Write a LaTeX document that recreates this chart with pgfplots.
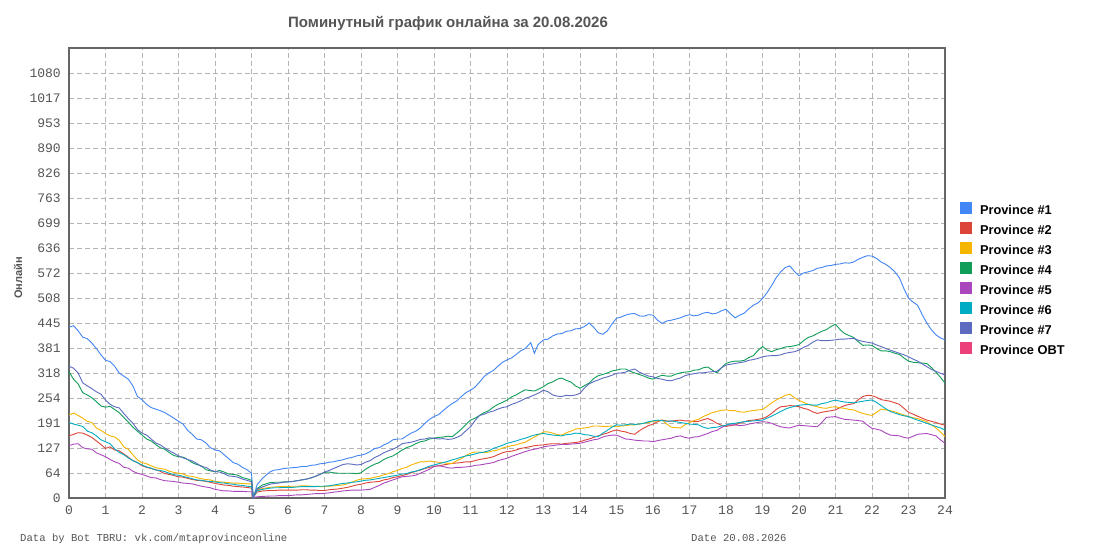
\documentclass[border=0pt]{standalone}
\usepackage{fontspec}
\setmainfont{Liberation Sans}
\newfontfamily\monofont{Liberation Mono}
\usepackage{pgfplots}
\usepackage{pgfplotstable}
\pgfplotsset{compat=1.18}
\definecolor{cA}{HTML}{4285F4}
\definecolor{cB}{HTML}{DB4437}
\definecolor{cC}{HTML}{F4B400}
\definecolor{cD}{HTML}{0F9D58}
\definecolor{cE}{HTML}{AB47BC}
\definecolor{cF}{HTML}{00ACC1}
\definecolor{cG}{HTML}{5C6BC0}
\definecolor{cH}{HTML}{EC407A}
\definecolor{txt}{HTML}{555555}
\definecolor{frame}{HTML}{666666}
\definecolor{gridc}{HTML}{B4B4B4}
\pgfplotstableread{
h s1 s2 s3 s4 s5 s6 s7
0 434 158 211 321 133 192 335
0.125 438 162 216 302 137 188 330
0.25 425 166 210 290 138 185 318
0.375 409 165 203 268 128 182 293
0.5 405 160 195 262 125 170 285
0.625 394 154 192 255 124 166 278
0.75 380 145 178 245 115 158 270
0.875 364 136 172 234 110 148 264
1 350 126 164 231 105 143 249
1.125 347 130 158 233 98 138 238
1.25 335 122 155 225 92 125 232
1.375 318 120 147 217 88 116 229
1.5 310 112 130 205 78 110 215
1.625 302 104 124 193 76 102 202
1.75 285 95 110 180 68 95 190
1.875 258 90 97 170 63 90 174
2 250 82 90 160 60 84 165
2.125 238 78 87 150 56 79 160
2.25 230 75 82 145 52 76 150
2.375 226 72 77 136 51 71 140
2.5 222 68 75 128 47 70 135
2.625 217 62 73 124 44 67 127
2.75 210 60 68 115 43 63 120
2.875 203 57 65 108 42 59 114
3 195 54 63 105 40 58 107
3.125 188 53 61 104 38 55 102
3.25 172 50 56 98 37 52 98
3.375 162 47 55 90 36 49 94
3.5 150 45 52 85 33 46 88
3.625 148 44 49 82 30 45 80
3.75 140 42 47 72 28 43 78
3.875 128 40 46 69 26 42 71
4 122 37 42 67 22 41 67
4.125 120 35 41 70 20 39 66
4.25 110 33 40 66 18 38 62
4.375 100 32 39 61 18 36 56
4.5 90 30 38 60 17 35 55
4.625 86 29 38 58 17 33 53
4.75 78 28 37 52 17 32 48
4.875 72 27 36 49 16 30 45
5 63 25 36 45 16 29 41
5.05 0 2 3 3 1 2 2
5.15 33 15 20 24 3 18 22
5.3 50 18 24 33 4 22 28
5.5 66 19 27 39 5 25 35
5.625 71 19 28 40 5 26 37
5.75 72 20 29 40 6 26 38
5.875 75 20 29 41 6 27 40
6 76 20 29 41 6 27 41
6.125 77 20 30 42 7 27 42
6.25 78 20 30 44 8 28 44
6.375 80 21 31 46 8 29 46
6.5 80 21 31 48 9 29 48
6.625 83 20 30 51 10 29 51
6.75 84 20 30 55 11 29 55
6.875 87 19 29 60 11 30 60
7 88 19 29 65 12 30 66
7.125 91 21 30 66 13 31 70
7.25 92 22 31 64 15 33 75
7.375 95 23 32 63 16 35 80
7.5 97 25 33 63 18 37 85
7.625 101 27 36 63 19 38 87
7.75 103 30 40 63 20 40 86
7.875 107 33 45 62 20 41 84
8 109 35 48 64 20 43 85
8.125 112 38 49 73 21 45 91
8.25 118 40 50 80 22 46 95
8.375 126 41 53 86 27 48 103
8.5 128 42 55 90 32 50 108
8.625 135 46 59 98 38 52 115
8.75 140 48 62 103 42 54 120
8.875 148 52 67 107 46 56 124
9 150 54 70 114 50 58 130
9.125 150 57 75 122 54 61 138
9.25 158 60 78 128 55 62 140
9.375 165 64 84 132 56 66 142
9.5 170 68 88 138 58 68 145
9.625 178 71 92 143 63 72 149
9.75 190 75 92 145 68 76 150
9.875 200 78 94 150 73 81 153
10 207 80 92 152 80 84 152
10.125 212 82 91 154 82 87 150
10.25 222 84 90 155 80 90 151
10.375 232 86 88 157 77 93 149
10.5 240 88 88 156 76 97 150
10.625 247 89 95 165 78 100 154
10.75 258 90 100 175 78 104 160
10.875 268 92 108 187 79 107 171
11 274 92 114 198 80 109 181
11.125 282 95 117 203 83 112 197
11.25 295 98 117 210 84 115 210
11.375 309 100 115 217 86 117 213
11.5 318 102 117 222 88 120 218
11.625 324 105 120 231 90 126 221
11.75 335 110 122 238 95 130 226
11.875 345 115 127 243 98 134 230
12 351 118 130 249 101 139 232
12.125 356 119 133 257 106 142 238
12.25 365 122 135 262 110 145 242
12.375 374 126 139 269 114 149 247
12.5 380 128 142 275 118 152 253
12.65 395 131 150 273 122 157 258
12.75 368 133 155 272 124 160 262
12.85 390 134 160 276 126 162 266
13 402 135 168 283 130 164 274
13.125 404 137 168 291 132 162 270
13.25 412 138 165 295 133 160 262
13.375 417 138 161 302 135 159 259
13.5 418 137 160 305 136 158 258
13.625 424 139 166 299 136 161 261
13.75 425 140 170 295 137 162 260
13.875 430 141 175 285 138 165 262
14 431 143 177 279 139 164 266
14.125 436 147 178 286 142 161 280
14.25 445 150 180 292 145 160 290
14.375 434 154 183 304 148 157 296
14.5 420 158 183 311 150 156 300
14.625 416 162 182 314 155 165 305
14.75 425 165 182 318 158 172 308
14.875 442 170 183 323 160 180 312
15 457 173 181 325 160 186 317
15.125 460 170 183 328 155 185 318
15.25 465 168 184 328 150 186 320
15.375 468 164 186 322 149 188 325
15.5 469 162 186 318 147 187 328
15.625 463 171 188 314 146 188 320
15.75 462 178 190 310 145 190 315
15.875 466 184 192 305 145 194 310
16 465 188 195 302 143 196 308
16.125 452 194 196 308 146 198 304
16.25 444 198 198 312 148 197 302
16.375 450 196 188 310 150 195 299
16.5 452 195 180 310 152 196 298
16.625 455 197 179 315 156 194 302
16.75 458 198 178 318 158 192 305
16.875 463 196 186 320 154 190 311
17 466 196 192 321 152 188 314
17.125 463 194 197 325 155 187 316
17.25 465 195 200 326 156 186 318
17.375 470 199 207 331 160 180 318
17.5 472 202 212 333 164 177 320
17.625 468 197 217 325 169 179 321
17.75 470 190 220 318 172 180 322
17.875 476 185 223 331 179 183 331
18 480 182 224 342 185 185 338
18.125 468 184 222 346 186 189 340
18.25 458 186 222 348 186 190 342
18.375 465 190 219 348 184 192 344
18.5 470 194 218 350 185 194 346
18.625 481 197 221 357 188 195 350
18.75 490 198 222 362 190 196 352
18.875 496 200 224 375 192 197 355
19 507 202 225 385 194 198 359
19.125 522 207 233 376 193 203 361
19.25 540 215 242 372 190 208 362
19.375 560 225 249 377 185 214 362
19.5 575 232 255 380 181 220 364
19.625 586 233 261 384 179 226 368
19.75 590 235 264 385 178 230 370
19.875 576 234 255 387 182 233 372
20 565 232 248 390 185 236 376
20.125 572 228 243 400 184 237 383
20.25 575 225 238 408 183 238 388
20.375 578 219 235 412 182 236 396
20.5 584 215 232 418 181 236 402
20.625 586 218 229 424 192 240 400
20.75 590 220 228 428 205 242 400
20.875 591 222 231 436 206 246 401
21 594 224 232 442 207 249 402
21.125 595 230 229 428 203 246 404
21.25 598 235 228 418 200 244 404
21.375 597 238 225 413 199 243 405
21.5 600 240 224 408 198 242 406
21.625 607 250 219 397 197 244 401
21.75 612 258 215 388 195 246 398
21.875 616 261 212 389 185 248 396
22 615 260 210 388 177 249 394
22.125 609 256 218 380 175 243 389
22.25 600 250 226 374 172 235 385
22.375 594 248 224 374 165 227 380
22.5 586 246 222 372 160 220 376
22.625 575 242 219 368 159 216 372
22.75 560 238 215 365 158 212 368
22.875 532 228 211 356 154 209 364
23 508 218 207 348 152 207 359
23.125 498 213 204 345 157 202 353
23.25 490 208 202 344 162 198 348
23.375 466 203 198 343 163 194 341
23.5 445 198 194 342 164 190 334
23.625 428 195 186 332 161 186 327
23.75 415 192 178 320 158 182 322
23.875 407 188 168 307 148 178 317
24 402 185 156 292 139 173 313
}\data
\begin{document}
\begin{tikzpicture}[x=1pt,y=1pt]
\path[use as bounding box, fill=white] (0,0) rectangle (1095,550);
\begin{axis}[
  at={(69pt,52pt)}, anchor=south west,
  width=876pt, height=450pt, scale only axis,
  xmin=0, xmax=24, ymin=0, ymax=1144,
  xtick={0,1,...,24},
  ytick={0,63.556,127.111,190.667,254.222,317.778,381.333,444.889,508.444,572,635.556,699.111,762.667,826.222,889.778,953.333,1016.889,1080.444},
  yticklabels={0,64,127,191,254,318,381,445,508,572,636,699,763,826,890,953,1017,1080},
  /pgf/number format/assume math mode=true,
  major tick length=0pt,
  tick style={draw=none},
  grid=major,
  major grid style={gridc, line width=0.9pt, dash pattern=on 5pt off 3pt},
  axis line style={frame, line width=1.3pt},
  ticklabel style={font=\monofont\fontsize{13}{13}\selectfont, text=txt},
  yticklabel style={anchor=east, inner sep=0pt, xshift=-8pt},
  xticklabel style={anchor=north, inner sep=0pt, yshift=-8pt},
  ylabel={Онлайн},
  ylabel style={at={(axis description cs:-0.0582,0.489)}, anchor=center, font=\bfseries\fontsize{11}{11}\selectfont, text=txt},
  every axis title shift=0pt,
  title={Поминутный график онлайна за 20.08.2026},
  title style={at={(axis description cs:0.4327,1.0536)}, anchor=center, font=\bfseries\fontsize{15}{15}\selectfont, text=txt},
  legend style={at={(axis description cs:1.01712,0.6578)}, anchor=north west, draw=none, fill=none,
    inner sep=0pt, outer sep=0pt, row sep=4pt, column sep=0pt,
    font=\bfseries\fontsize{12.8}{12.8}\selectfont,
    nodes={inner sep=0pt, text height=9pt, text depth=3pt}},
  legend cell align=left,
  legend image code/.code={\path[draw=none,fill=none] (0pt,-2pt) rectangle (20pt,10pt); \fill[#1,draw=none] (0pt,-2pt) rectangle (12pt,10pt);},
  every axis plot/.append style={line width=0.9pt},
]
\addplot[cA] table[x=h,y=s1]{\data};
\addlegendentry{Province \#1}
\addplot[cB] table[x=h,y=s2]{\data};
\addlegendentry{Province \#2}
\addplot[cC] table[x=h,y=s3]{\data};
\addlegendentry{Province \#3}
\addplot[cD] table[x=h,y=s4]{\data};
\addlegendentry{Province \#4}
\addplot[cE] table[x=h,y=s5]{\data};
\addlegendentry{Province \#5}
\addplot[cF] table[x=h,y=s6]{\data};
\addlegendentry{Province \#6}
\addplot[cG] table[x=h,y=s7]{\data};
\addlegendentry{Province \#7}
\addlegendimage{cH}
\addlegendentry{Province OBT}
\end{axis}
\node[anchor=base west, inner sep=0pt, font=\monofont\fontsize{10.6}{10.6}\selectfont, text=txt] at (20,9) {Data by Bot TBRU: vk.com/mtaprovinceonline};
\node[anchor=base west, inner sep=0pt, font=\monofont\fontsize{10.6}{10.6}\selectfont, text=txt] at (691,9) {Date 20.08.2026};
\end{tikzpicture}
\end{document}
